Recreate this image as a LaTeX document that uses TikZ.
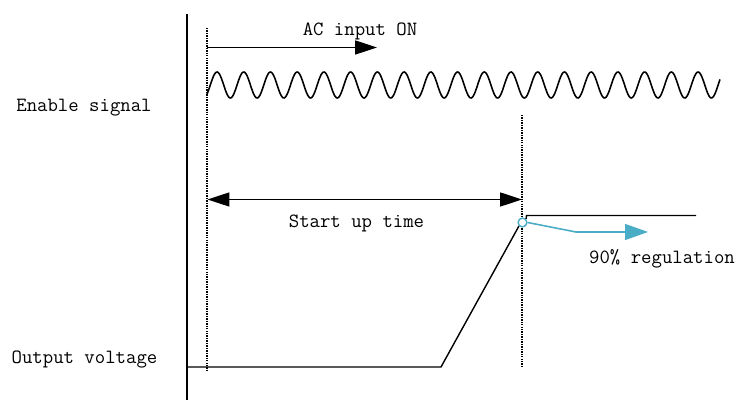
\documentclass[tikz,border=0pt]{standalone}
\usetikzlibrary{arrows.meta}
\definecolor{regblue}{HTML}{4BACC6}
\begin{document}
\begin{tikzpicture}[x=0.02cm,y=-0.02cm,
  lbl/.style={font=\ttfamily\fontsize{11.5}{13}\selectfont, inner sep=0pt, anchor=center},
  solidline/.style={line width=0.8pt, black},
  dotline/.style={line width=0.75pt, black, dash pattern=on 0.8pt off 0.6pt},
  bigtip/.style={-{Triangle[length=12.5pt,width=8pt]}},
  bluetip/.style={-{Triangle[length=13pt,width=9pt]}}
]
\useasboundingbox (0,0) rectangle (739,401);
% axis
\coordinate (axtop) at (187,14);
\coordinate (axbot) at (187,400);
\draw[line width=1pt] (axtop) -- (axbot);
% dotted markers
\coordinate (d1top) at (207,28);
\coordinate (d1bot) at (207,370);
\draw[dotline] (d1top) -- (d1bot);
\coordinate (d2top) at (522,115);
\coordinate (d2bot) at (522,368);
\draw[dotline] (d2top) -- (d2bot);
% AC input arrow
\coordinate (acs) at (207,47.5);
\coordinate (ace) at (377,47.5);
\draw[solidline,bigtip] (acs) -- (ace);
\node[lbl] (aclbl) at (360,31) {AC input ON};
% wave
\draw[line width=0.9pt, smooth] plot[domain=207:720, samples=500, variable=\t] ({\t},{85-13*cos(13.47*(\t-217))});
% labels
\node[lbl] (enlbl) at (84,107.5) {Enable signal};
\node[lbl] (outlbl) at (84.5,359.5) {Output voltage};
% start up time
\coordinate (sus) at (207.5,199.5);
\coordinate (sue) at (522,199.5);
\draw[solidline,{Triangle[length=12.5pt,width=8pt]}-{Triangle[length=12.5pt,width=8pt]}] (sus) -- (sue);
\node[lbl] (sulbl) at (356.5,223.5) {Start up time};
% output voltage curve
\coordinate (o0) at (187,367);
\coordinate (o1) at (441,367);
\node[circle, draw=regblue, line width=0.8pt, inner sep=0pt, minimum size=5pt, fill=white] (pt) at (522.5,222.5) {};
\coordinate (o3) at (526.5,215.5);
\coordinate (o4) at (696,215.5);
\draw[solidline] (o0) -- (o1) -- (pt.south west);
\draw[solidline] (pt.north east) -- (o3) -- (o4);
% regulation arrow
\coordinate (b1) at (576,232);
\coordinate (b2) at (648,232);
\draw[regblue, line width=0.9pt, bluetip] (pt.east) -- (b1) -- (b2);
\node[lbl] (reglbl) at (662,258.5) {90\% regulation};
\end{tikzpicture}
\end{document}
